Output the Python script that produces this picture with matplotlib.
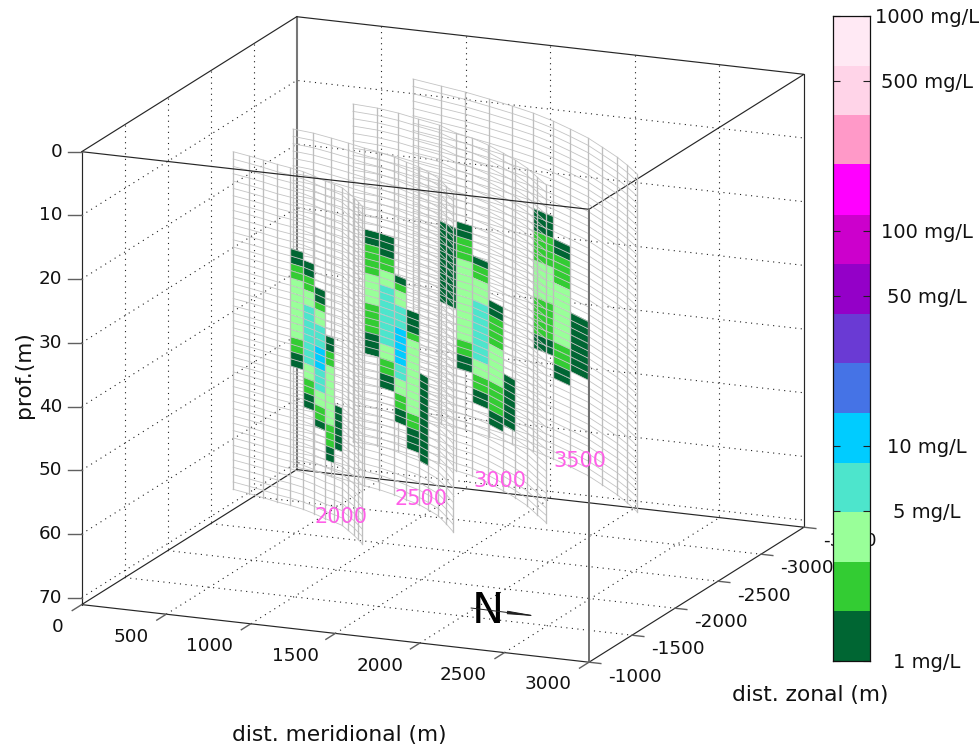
import numpy as np
import matplotlib
matplotlib.use("Agg")
import matplotlib.pyplot as plt
from matplotlib.ticker import NullLocator
from matplotlib.colors import ListedColormap, BoundaryNorm

# ---------- data ----------
m_ticks = [0, 500, 1000, 1500, 2000, 2500, 3000]
z_ticks = [-1000, -1500, -2000, -2500, -3000, -3500]
d_ticks = [0, 10, 20, 30, 40, 50, 60, 70]
M_MIN, M_MAX = 0, 3000
Z_FRONT, Z_BACK = -1000, -3500
D_TOP, D_BOTTOM = 0, 71.1

levels = [1, 1.70, 2.90, 4.92, 8.38, 14.3, 24.2, 41.2, 70.2, 119, 204, 346, 588, 1000]
level_colors = ['#006633', '#33CC33', '#99FF99', '#4DE5CC', '#00CCFF', '#4573E6',
                '#6A3AD4', '#9400C8', '#CC00CC', '#FF00FF', '#FF99C8', '#FFD4E8', '#FFE9F4']
cb_ticks = [1, 5, 10, 50, 100, 500, 1000]
cb_labels = ['1 mg/L', '5 mg/L', '10 mg/L', '50 mg/L', '100 mg/L', '500 mg/L', '1000 mg/L']

# representative concentration of each class
conc = [1.3, 2.2, 3.8, 6.4, 11.0]

# section traces: position of the column edges
s2000_m = [250, 364, 466, 570, 663, 760, 849, 944, 1015, 1083, 1153, 1222, 1274, 1329]
s2000_z = [-2269, -2230, -2192, -2149, -2119, -2080, -2032, -1973, -1937, -1898, -1830, -1763, -1707, -1647]
s2500_m = [369, 501, 631, 756, 876, 983, 1098, 1198, 1303, 1388, 1486, 1590, 1689]
s2500_z = [-2731, -2704, -2658, -2610, -2560, -2524, -2472, -2415, -2360, -2297, -2221, -2110, -1997]
s3000_m = [470, 622, 767, 915, 1068, 1217, 1337, 1473, 1612, 1728, 1852, 1974, 2083]
s3000_z = [-3230, -3210, -3169, -3111, -3054, -2959, -2909, -2828, -2729, -2641, -2537, -2413, -2304]
s3500_m = [571, 767, 935, 1111, 1282, 1443, 1607, 1756, 1918, 2060, 2215, 2329, 2451]
s3500_z = [-3729, -3669, -3618, -3551, -3482, -3410, -3320, -3225, -3116, -2999, -2869, -2762, -2638]
section_top = 10
section_bottom = 63
section_rows = 46

# column: (row boundaries, class of each band)
s2000_bands = {
    4: ([11, 13, 15, 23, 25, 27], [0, 1, 2, 1, 0]),
    5: ([12, 14, 16, 18, 26, 28, 30, 32], [0, 1, 2, 3, 2, 1, 0]),
    6: ([15, 17, 18, 20, 23, 26, 29, 31, 33, 34], [0, 1, 2, 3, 4, 3, 2, 1, 0]),
    7: ([21, 23, 25, 33, 36, 38], [0, 1, 2, 1, 0]),
    8: ([30, 36], [0]),
}
s2500_bands = {
    4: ([11, 13, 17, 21, 25, 28], [0, 1, 2, 1, 0]),
    5: ([11, 14, 16, 18, 26, 28, 30, 32], [0, 1, 2, 3, 2, 1, 0]),
    6: ([16, 17, 18, 20, 23, 28, 30, 32, 34, 36], [0, 1, 2, 3, 4, 3, 2, 1, 0]),
    7: ([20, 23, 24, 34, 36, 39], [0, 1, 2, 1, 0]),
    8: ([28, 40], [0]),
}
s3000_bands = {
    4: ([13, 24], [0]),
    5: ([12, 14, 17, 28, 30, 32], [0, 1, 2, 1, 0]),
    6: ([16, 17, 19, 22, 30, 32, 34, 36], [0, 1, 2, 3, 2, 1, 0]),
    7: ([21, 23, 27, 32, 36, 38], [0, 1, 2, 1, 0]),
    8: ([30, 37], [0]),
}
s3500_bands = {
    5: ([13, 16, 20, 25, 30, 32], [0, 1, 2, 1, 0]),
    6: ([16, 18, 22, 30, 33, 35], [0, 1, 2, 1, 0]),
    7: ([25, 33], [0]),
}

# ---------- projection (orthographic view of the box, in figure pixels) ----------
W, H = 980, 747
ORIGIN = (81.7, 151.7)
M_VEC = (0.1691, 0.0192)
Z_VEC = (0.0860, -0.0540)
D_SCALE = 6.37

def proj(m, z, d):
    m, z, d = np.asarray(m, float), np.asarray(z, float), np.asarray(d, float)
    b = Z_FRONT - z
    return (ORIGIN[0] + M_VEC[0] * m + Z_VEC[0] * b,
            ORIGIN[1] + M_VEC[1] * m + Z_VEC[1] * b + D_SCALE * d)

fig = plt.figure(figsize=(W / 100, H / 100), dpi=100, facecolor='white')
ax = fig.add_axes([0, 0, 1, 1])
ax.set_xlim(0, W)
ax.set_ylim(H, 0)
ax.axis('off')

FS = 13.2
FS_T = 15.7
TC = '#111111'
BOX = dict(color='#262626', lw=0.85, solid_capstyle='round')
GRID = dict(color='#202020', lw=0.8, linestyle=(0, (1, 4)), zorder=1)

def line3(ms, zs, ds, **kw):
    x, y = proj(ms, zs, ds)
    ax.plot(x, y, **kw)

# dotted grids
for m in m_ticks[1:-1]:
    line3([m, m], [Z_FRONT, Z_BACK], [D_BOTTOM, D_BOTTOM], **GRID)
    line3([m, m], [Z_BACK, Z_BACK], [D_TOP, D_BOTTOM], **GRID)
for z in z_ticks[1:-1]:
    line3([M_MIN, M_MAX], [z, z], [D_BOTTOM, D_BOTTOM], **GRID)
    line3([M_MIN, M_MIN], [z, z], [D_TOP, D_BOTTOM], **GRID)
for d in d_ticks[1:]:
    line3([M_MIN, M_MIN, M_MAX], [Z_FRONT, Z_BACK, Z_BACK], [d, d, d], **GRID)
line3([M_MIN, M_MIN], [Z_BACK, Z_BACK], [D_TOP, D_BOTTOM], color='#777777', lw=1.5, zorder=1)

# back box edges
line3([M_MIN, M_MIN, M_MAX, M_MAX], [Z_FRONT, Z_BACK, Z_BACK, Z_FRONT], [D_BOTTOM] * 4, zorder=2, **BOX)
line3([M_MIN, M_MIN, M_MAX, M_MAX], [Z_FRONT, Z_BACK, Z_BACK, Z_FRONT], [D_TOP] * 4, zorder=2, **BOX)
line3([M_MAX, M_MAX], [Z_BACK, Z_BACK], [D_TOP, D_BOTTOM], zorder=2, **BOX)

# colour scale
cmap = ListedColormap(level_colors)
norm = BoundaryNorm(levels, cmap.N)

# sections, back to front
sections = [(s3500_m, s3500_z, s3500_bands), (s3000_m, s3000_z, s3000_bands),
            (s2500_m, s2500_z, s2500_bands), (s2000_m, s2000_z, s2000_bands)]
z0 = 3
for ms, zs, bands in sections:
    ms_a, zs_a = np.array(ms), np.array(zs)
    depths = np.linspace(section_top, section_bottom, section_rows + 1)
    MM = np.repeat(ms_a[None, :], len(depths), axis=0)
    ZZ = np.repeat(zs_a[None, :], len(depths), axis=0)
    DD = np.repeat(depths[:, None], len(ms_a), axis=1)
    X, Y = proj(MM, ZZ, DD)
    C = np.full((section_rows, len(ms_a) - 1), np.nan)
    for col, (bounds, classes) in bands.items():
        for r0, r1, k in zip(bounds[:-1], bounds[1:], classes):
            C[r0:r1, col] = conc[k]
    ax.pcolormesh(X, Y, np.ma.masked_invalid(C), cmap=cmap, norm=norm, shading='flat',
                  antialiased=True, linewidth=0, zorder=z0)
    for i in range(X.shape[0]):
        ax.plot(X[i], Y[i], color='#C4C4C4', lw=0.6, zorder=z0 + 0.1)
    for j in range(X.shape[1]):
        ax.plot(X[:, j], Y[:, j], color='#BEBEBE', lw=0.95, zorder=z0 + 0.1)
    z0 += 0.2

# front box edges
line3([M_MIN, M_MAX], [Z_FRONT, Z_FRONT], [D_TOP, D_TOP], zorder=5, **BOX)
line3([M_MIN, M_MAX], [Z_FRONT, Z_FRONT], [D_BOTTOM, D_BOTTOM], zorder=5, **BOX)
line3([M_MIN, M_MIN], [Z_FRONT, Z_FRONT], [D_TOP, D_BOTTOM], zorder=5, **BOX)
line3([M_MAX, M_MAX], [Z_FRONT, Z_FRONT], [D_TOP, D_BOTTOM], color='#707070', lw=1.4, zorder=5)

# ticks
TICK = dict(color='#606060', lw=1.0, zorder=5)
for d in d_ticks:
    x, y = proj(M_MIN, Z_FRONT, d)
    ax.plot([x - 13.5, x], [y, y], **TICK)
    ax.text(x - 19.5, y, str(d), ha='right', va='center', fontsize=FS, color=TC)
for m in m_ticks:
    line3([m, m], [Z_FRONT, Z_FRONT + 110], [D_BOTTOM, D_BOTTOM], **TICK)
for z in z_ticks:
    line3([M_MAX, M_MAX + 70], [z, z], [D_BOTTOM, D_BOTTOM], **TICK)

m_label_xy = [(58, 627), (131, 637), (209, 646), (295, 656), (380, 666), (463, 675), (548, 684)]
for m, (x, y) in zip(m_ticks, m_label_xy):
    ax.text(x, y, str(m), ha='center', va='center', fontsize=FS, color=TC)
z_label_xy = [(635, 677), (678, 649), (721, 622), (764, 596), (807, 568), (850, 541)]
for z, (x, y) in zip(z_ticks, z_label_xy):
    ax.text(x, y, str(z), ha='center', va='center', fontsize=FS, color=TC)

# axis titles
ax.text(24, 375, 'prof.(m)', rotation=90, ha='center', va='center', fontsize=FS_T, color=TC)
ax.text(339, 735, 'dist. meridional (m)', ha='center', va='center', fontsize=FS_T, color=TC)
ax.text(810, 695, 'dist. zonal (m)', ha='center', va='center', fontsize=FS_T, color=TC)

# section names
for name, x, y in [('2000', 341, 517), ('2500', 421, 499), ('3000', 500, 481), ('3500', 580, 461)]:
    ax.text(x, y, name, ha='center', va='center', fontsize=15, color='#FF5FE8', zorder=6)

# north mark
ax.text(488, 611, 'N', ha='center', va='center', fontsize=31, color='black', zorder=6)
ax.annotate('', xy=(540, 616.5), xytext=(471, 608),
            arrowprops=dict(arrowstyle='-|>,head_length=1.7,head_width=0.09',
                            color='#202020', lw=0.7, shrinkA=0, shrinkB=0), zorder=6)

# colour bar
cax = fig.add_axes([832.5 / W, 1 - 661 / H, 37 / W, 645 / H])
cax.pcolormesh([0, 1], levels, np.arange(len(level_colors))[:, None],
               cmap=cmap, vmin=-0.5, vmax=len(level_colors) - 0.5, shading='flat')
cax.set_yscale('log')
cax.set_ylim(levels[0], levels[-1])
cax.set_xlim(0, 1)
cax.set_xticks([])
cax.yaxis.set_minor_locator(NullLocator())
cax.set_yticks(cb_ticks)
cax.set_yticklabels([])
cax.tick_params(axis='y', which='major', direction='in', left=True, right=True,
                length=5, width=0.8, color='#202020')
for v, lab in zip(cb_ticks, cb_labels):
    cax.annotate(lab, xy=(1, v), xycoords=('axes fraction', 'data'), xytext=(41.5, -1.2),
                 textcoords='offset points', ha='center', va='center',
                 fontsize=14, color=TC, annotation_clip=False)
for s in cax.spines.values():
    s.set_color('#101010')
    s.set_linewidth(0.9)

fig.savefig('out.png', dpi=100, facecolor='white')
